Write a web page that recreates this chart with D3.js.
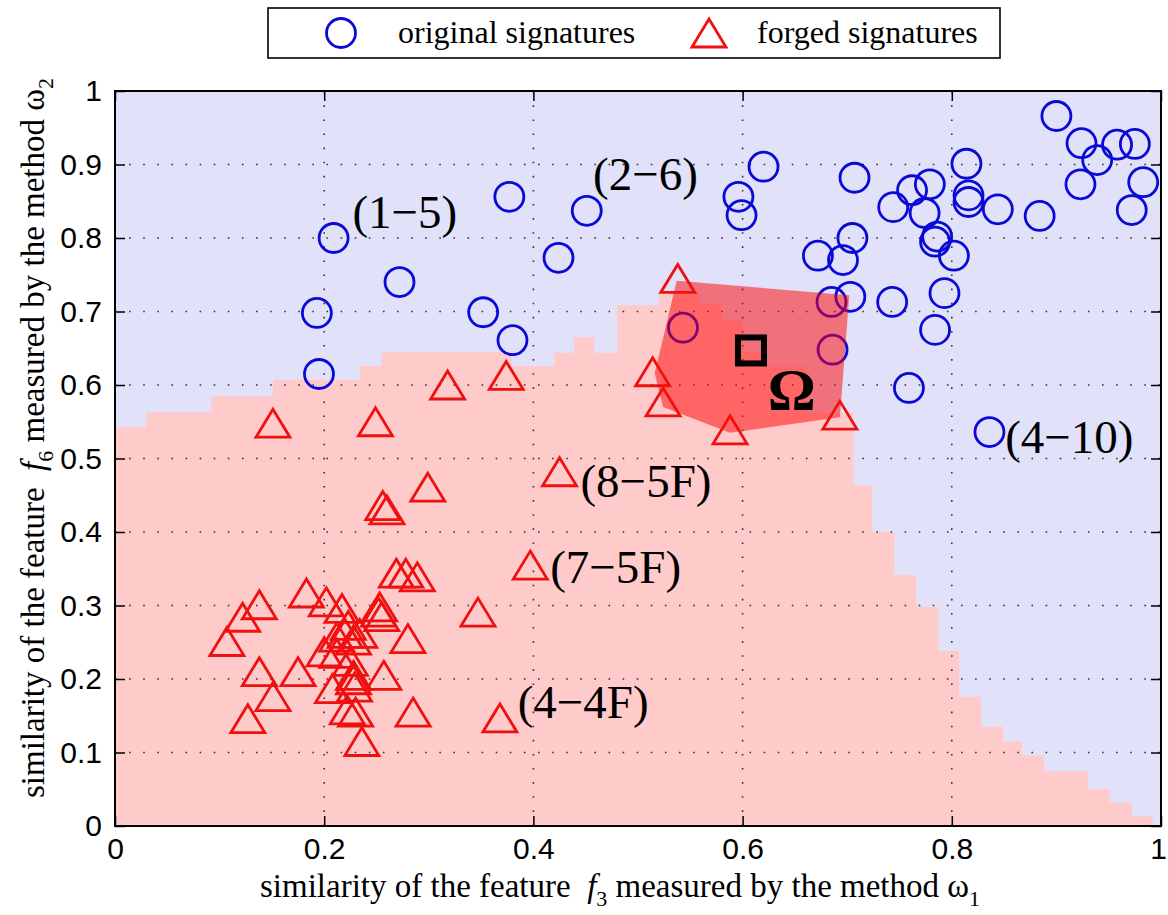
<!DOCTYPE html>
<html><head><meta charset="utf-8">
<script src="https://cdn.jsdelivr.net/npm/d3@7"></script>
<style>html,body{margin:0;padding:0;background:#fff;}svg{display:block;}</style>
</head><body>
<svg id="chart" width="1168" height="915"></svg>
<script>
// ---------- data ----------
const origX = [0.209,0.272,0.193,0.195,0.352,0.380,0.377,0.451,0.424,0.596,0.599,0.620,0.543,0.707,0.672,0.705,0.696,0.685,0.703,0.686,
  0.900,0.924,0.939,0.958,0.975,0.983,0.923,0.972,0.884,0.844,0.814,0.816,0.816,0.762,0.779,0.744,0.774,0.786,0.784,0.802,0.743,0.793,0.784,0.759,0.836];
const origY = [0.800,0.740,0.698,0.615,0.699,0.661,0.856,0.837,0.773,0.856,0.831,0.897,0.678,0.882,0.776,0.800,0.770,0.713,0.720,0.648,
  0.966,0.929,0.906,0.927,0.928,0.876,0.873,0.838,0.830,0.839,0.901,0.858,0.849,0.865,0.873,0.842,0.834,0.802,0.795,0.776,0.713,0.725,0.675,0.596,0.536];

const forgX = [0.151,0.249,0.318,0.256,0.260,0.299,0.347,0.374,0.514,0.538,0.524,0.588,0.693,0.425,0.397,0.368,
  0.138,0.122,0.107,0.183,0.202,0.217,0.223,0.234,0.269,0.278,0.289,0.253,0.252,0.255,0.280,0.138,0.151,0.127,0.175,
  0.200,0.212,0.208,0.228,0.228,0.229,0.257,0.222,0.230,0.236,0.285,0.212,0.220,0.228,0.225];
const forgY = [0.548,0.550,0.600,0.436,0.430,0.461,0.291,0.613,0.618,0.745,0.577,0.539,0.559,0.482,0.355,0.147,
  0.301,0.284,0.251,0.317,0.305,0.296,0.273,0.262,0.344,0.344,0.339,0.298,0.291,0.285,0.255,0.210,0.176,0.146,0.210,
  0.237,0.235,0.187,0.205,0.199,0.189,0.205,0.158,0.155,0.115,0.155,0.257,0.262,0.253,0.224];

// decision region (forged class) : step start x and height
const regionX = [0.000,0.030,0.092,0.151,0.234,0.255,0.379,0.420,0.439,0.458,0.480,0.520,0.559,0.580,0.600,0.623,0.661,0.706,0.724,0.745,0.766,0.787,0.807,0.828,0.849,0.867,0.888,0.930,0.951,0.972,0.992,1.000];
const regionY = [0.543,0.563,0.585,0.607,0.626,0.645,0.626,0.644,0.665,0.644,0.708,0.725,0.711,0.688,0.645,0.625,0.562,0.464,0.400,0.341,0.298,0.238,0.176,0.135,0.115,0.096,0.075,0.050,0.032,0.013,0.000,0.000];

// Omega region polygon
const omegaX = [0.537,0.702,0.693,0.588,0.524,0.516];
const omegaY = [0.742,0.722,0.556,0.535,0.570,0.616];
const omegaCenter = [0.608,0.647];

const xTicks = [0,0.2,0.4,0.6,0.8,1];
const xTickLabels = ["0","0.2","0.4","0.6","0.8","1"];
const yTicks = [0,0.1,0.2,0.3,0.4,0.5,0.6,0.7,0.8,0.9,1];
const yTickLabels = ["0","0.1","0.2","0.3","0.4","0.5","0.6","0.7","0.8","0.9","1"];

const annText = ["(1\u22125)","(2\u22126)","(4\u221210)","(8\u22125F)","(7\u22125F)","(4\u22124F)"];
const annX = [0.227,0.457,0.851,0.445,0.416,0.385];
const annY = [0.814,0.865,0.507,0.448,0.331,0.147];

const legendLabels = ["original signatures","forged signatures"];

// ---------- drawing ----------
const svg = d3.select("#chart");
const L = 115, R = 1161, T = 91, B = 826;
const x = d3.scaleLinear().domain([0,1]).range([L,R]);
const y = d3.scaleLinear().domain([0,1]).range([B,T]);
const serif = "'Liberation Serif','Times New Roman',serif";
const sans = "'Liberation Sans',Arial,sans-serif";

// background
svg.append("rect").attr("x",x(0)).attr("y",y(1)).attr("width",x(1)-x(0)).attr("height",y(0)-y(1)).attr("fill","#e1e1f9");

// forged region
const region = regionX.map((v,i)=>[v,regionY[i]]);
svg.append("path").datum(region)
  .attr("d", d3.area().x(d=>x(d[0])).y0(y(0)).y1(d=>y(d[1])).curve(d3.curveStepAfter))
  .attr("fill","#ffcaca");

// grid
const gridG = svg.append("g");
gridG.selectAll("line.gx").data([0.2,0.4,0.6,0.8]).join("line")
  .attr("x1",d=>x(d)).attr("x2",d=>x(d)).attr("y1",y(0)).attr("y2",y(1));
gridG.selectAll("line.gy").data([0.1,0.2,0.3,0.4,0.5,0.6,0.7,0.8,0.9]).join("line").attr("class","gy")
  .attr("y1",d=>y(d)).attr("y2",d=>y(d)).attr("x1",x(0)).attr("x2",x(1));
gridG.selectAll("line").attr("stroke","#333").attr("stroke-width",1.6).attr("stroke-dasharray","1.6,12.5");

// circles
const orig = origX.map((v,i)=>[v,origY[i]]);
svg.append("g").selectAll("circle").data(orig).join("circle")
  .attr("cx",d=>x(d[0])).attr("cy",d=>y(d[1])).attr("r",14.5)
  .attr("fill","none").attr("stroke","#0a0ad8").attr("stroke-width",2.8);

// Omega polygon
const omega = omegaX.map((v,i)=>[x(v),y(omegaY[i])]);
svg.append("polygon").attr("points",omega.map(p=>p.join(",")).join(" "))
  .attr("fill","#ff0000").attr("fill-opacity",0.5);

// triangles
const tri = (cx,cy,w,h)=>`M${cx},${cy-h/2}L${cx+w/2},${cy+h/2}L${cx-w/2},${cy+h/2}Z`;
const forg = forgX.map((v,i)=>[v,forgY[i]]);
svg.append("g").selectAll("path").data(forg).join("path")
  .attr("d",d=>tri(x(d[0]),y(d[1]),34,28))
  .attr("fill","none").attr("stroke","#f01010").attr("stroke-width",2.8);

// Omega center square
svg.append("rect").attr("x",x(omegaCenter[0])-13).attr("y",y(omegaCenter[1])-13)
  .attr("width",26).attr("height",26).attr("fill","none").attr("stroke","#000").attr("stroke-width",6);
svg.append("text").attr("x",x(0.624)).attr("y",y(0.566)).attr("font-family",serif)
  .attr("font-size",60).attr("font-weight","bold").text("\u03A9");

// annotations
svg.append("g").selectAll("text").data(annText).join("text")
  .attr("x",(d,i)=>x(annX[i])).attr("y",(d,i)=>y(annY[i]))
  .attr("font-family",serif).attr("font-size",47).attr("fill","#000").text(d=>d);

// axes (ticks inward)
const fmtX = d=>xTickLabels[xTicks.indexOf(d)];
const fmtY = d=>yTickLabels[yTicks.indexOf(d)];
const axB = svg.append("g").attr("transform",`translate(0,${B})`)
  .call(d3.axisBottom(x).tickValues(xTicks).tickFormat(fmtX).tickSizeInner(-10).tickSizeOuter(0).tickPadding(12));
const axT = svg.append("g").attr("transform",`translate(0,${T})`)
  .call(d3.axisTop(x).tickValues(xTicks).tickFormat("").tickSizeInner(-10).tickSizeOuter(0));
const axL = svg.append("g").attr("transform",`translate(${L},0)`)
  .call(d3.axisLeft(y).tickValues(yTicks).tickFormat(fmtY).tickSizeInner(-10).tickSizeOuter(0).tickPadding(13));
const axR = svg.append("g").attr("transform",`translate(${R},0)`)
  .call(d3.axisRight(y).tickValues(yTicks).tickFormat("").tickSizeInner(-10).tickSizeOuter(0));
[axB,axT,axL,axR].forEach(a=>{
  a.select(".domain").remove();
  a.selectAll(".tick line").attr("stroke","#000").attr("stroke-width",1.5);
  a.selectAll(".tick text").attr("font-family",sans).attr("font-size",30).attr("fill","#000");
});
axB.selectAll(".tick text").filter(d=>d===1).attr("dx",-3);

// frame
svg.append("rect").attr("x",L).attr("y",T).attr("width",R-L).attr("height",B-T)
  .attr("fill","none").attr("stroke","#000").attr("stroke-width",2);

// axis labels
function axisLabel(g, sub1, greekSub){
  const t = g.append("text").attr("font-family",serif).attr("font-size",33).attr("fill","#000");
  t.append("tspan").text("similarity of the feature\u00A0 ");
  t.append("tspan").attr("font-style","italic").text("f");
  t.append("tspan").attr("font-size",22).attr("dy",9).text(sub1);
  t.append("tspan").attr("dy",-9).text(" measured by the method \u03C9");
  t.append("tspan").attr("font-size",22).attr("dy",9).text(greekSub);
  return t;
}
const xl = axisLabel(svg.append("g").attr("transform","translate(620,897)"),"3","1").attr("text-anchor","middle");
const yl = axisLabel(svg.append("g").attr("transform","translate(44,438) rotate(-90)"),"6","2").attr("text-anchor","middle");

// legend
const lg = svg.append("g");
lg.append("rect").attr("x",268).attr("y",8).attr("width",732).attr("height",50)
  .attr("fill","#fff").attr("stroke","#000").attr("stroke-width",1.6);
lg.append("circle").attr("cx",341).attr("cy",33).attr("r",14.5).attr("fill","none").attr("stroke","#0a0ad8").attr("stroke-width",2.8);
lg.append("text").attr("x",398).attr("y",43).attr("font-family",serif).attr("font-size",32).text(legendLabels[0]);
lg.append("path").attr("d",tri(709,33,34,28)).attr("fill","none").attr("stroke","#f01010").attr("stroke-width",2.8);
lg.append("text").attr("x",757).attr("y",43).attr("font-family",serif).attr("font-size",32).text(legendLabels[1]);
</script>
</body></html>
